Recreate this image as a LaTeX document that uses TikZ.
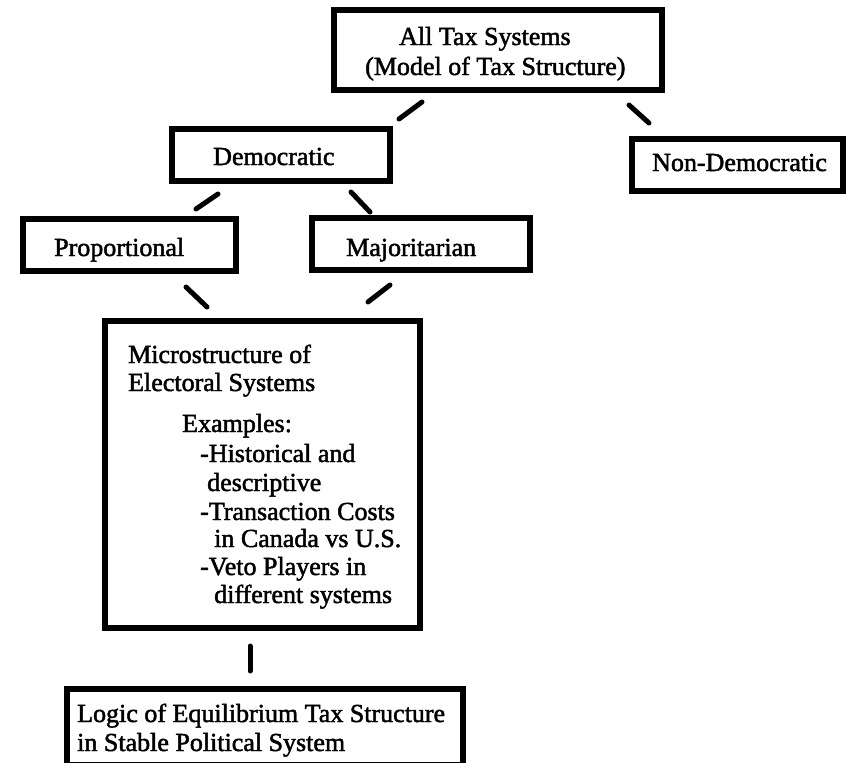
\documentclass[tikz,border=0pt]{standalone}
\usepackage{fontspec}
\setmainfont{Liberation Serif}[FakeBold=1.8]
\begin{document}
\begin{tikzpicture}[x=1pt,y=-1pt,
  box/.style={draw, line width=5.5pt, rectangle, inner sep=0pt},
  link/.style={line width=5pt, line cap=round},
  lbl/.style={anchor=base west, inner sep=0pt, font=\fontsize{26}{31}\selectfont}]
\useasboundingbox (0,0) rectangle (846,763);
% boxes
\node[box, minimum width=328pt, minimum height=80pt] (top) at (498,50) {};
\node[box, minimum width=218pt, minimum height=52pt] (dem) at (281,155) {};
\node[box, minimum width=211pt, minimum height=52pt] (nondem) at (737.5,165) {};
\node[box, minimum width=213pt, minimum height=52pt] (prop) at (129.5,245) {};
\node[box, minimum width=218pt, minimum height=52pt] (maj) at (421,244) {};
\node[box, minimum width=315pt, minimum height=307pt] (mid) at (262.5,474.5) {};
\node[box, minimum width=396pt, minimum height=76pt] (bot) at (265,727) {};
% texts
\node[lbl] (t1) at (399,45) {All Tax Systems};
\node[lbl] (t2) at (365,75) {(Model of Tax Structure)};
\node[lbl] (tdem) at (213,165) {Democratic};
\node[lbl] (tnon) at (652,171) {Non-Democratic};
\node[lbl] (tprop) at (54,256) {Proportional};
\node[lbl] (tmaj) at (346,256) {Majoritarian};
\node[lbl] (m1) at (128,363) {Microstructure of};
\node[lbl] (m2) at (128,391) {Electoral Systems};
\node[lbl] (m3) at (182,432) {Examples:};
\node[lbl] (m4) at (200,462) {-Historical and};
\node[lbl] (m5) at (207,491) {descriptive};
\node[lbl] (m6) at (200,520) {-Transaction Costs};
\node[lbl] (m7) at (214,547) {in Canada vs U.S.};
\node[lbl] (m8) at (200,575) {-Veto Players in};
\node[lbl] (m9) at (214,603) {different systems};
\node[lbl] (b1) at (77,722) {Logic of Equilibrium Tax Structure};
\node[lbl] (b2) at (77,751) {in Stable Political System};
% connector end points
\coordinate (c1a) at (422,102); \coordinate (c1b) at (399,119);
\coordinate (c2a) at (629,105); \coordinate (c2b) at (649,123);
\coordinate (c3a) at (218,194); \coordinate (c3b) at (196,209);
\coordinate (c4a) at (351,192); \coordinate (c4b) at (370,212);
\coordinate (c5a) at (186,287); \coordinate (c5b) at (207,307);
\coordinate (c6a) at (390,285); \coordinate (c6b) at (368,302);
\coordinate (c7a) at (250,646); \coordinate (c7b) at (250,671);
\draw[link] (c1a) -- (c1b);
\draw[link] (c2a) -- (c2b);
\draw[link] (c3a) -- (c3b);
\draw[link] (c4a) -- (c4b);
\draw[link] (c5a) -- (c5b);
\draw[link] (c6a) -- (c6b);
\draw[link] (c7a) -- (c7b);
\end{tikzpicture}
\end{document}
